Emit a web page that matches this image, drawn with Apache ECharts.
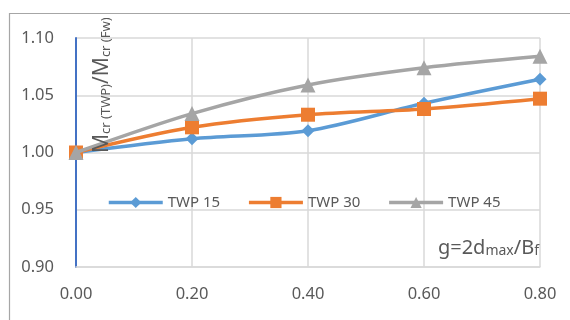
<!DOCTYPE html>
<html>
<head>
<meta charset="utf-8">
<script src="https://cdn.jsdelivr.net/npm/echarts@6/dist/echarts.min.js"></script>
<style>
  html, body { margin: 0; padding: 0; background: #fff; }
  #chart { width: 570px; height: 320px; }
</style>
</head>
<body>
<div id="chart"></div>
<script>
// g = 2 d_max / B_f
const gValues = [0.00, 0.20, 0.40, 0.60, 0.80];
// M_cr(TWP) / M_cr(Fw)
const twp15 = [1.000, 1.012, 1.019, 1.043, 1.064];
const twp30 = [1.000, 1.022, 1.033, 1.038, 1.047];
const twp45 = [1.000, 1.034, 1.059, 1.074, 1.084];
const seriesNames = ['TWP 15', 'TWP 30', 'TWP 45'];
const colors = ['#5b9bd5', '#ed7d31', '#a5a5a5'];
const symbols = ['diamond', 'rect', 'triangle'];
const symbolSizes = [13, 14, 15];

const font = "'Noto Sans', 'Liberation Sans', sans-serif";
const textColor = '#595959';
const gridColor = '#d9d9d9';

const pairs = arr => gValues.map((g, i) => [g, arr[i]]);

const chart = echarts.init(document.getElementById('chart'), null, { renderer: 'canvas' });

chart.setOption({
  animation: false,
  backgroundColor: '#fff',
  grid: { left: 76, right: 30, top: 38, bottom: 53 },
  xAxis: {
    type: 'value', min: 0, max: 0.8, interval: 0.2,
    axisLine: { lineStyle: { color: gridColor, width: 1.5 } },
    axisTick: { show: false },
    axisLabel: { color: textColor, fontFamily: font, fontSize: 16.5, margin: 19,
                 formatter: v => v.toFixed(2) },
    splitLine: { lineStyle: { color: gridColor, width: 1.5 } }
  },
  yAxis: {
    type: 'value', min: 0.9, max: 1.1, interval: 0.05,
    axisLine: { show: true, lineStyle: { color: '#4472c4', width: 2 } },
    axisTick: { show: false },
    axisLabel: { color: textColor, fontFamily: font, fontSize: 16.5, margin: 22,
                 formatter: v => v.toFixed(2) },
    splitLine: { lineStyle: { color: gridColor, width: 1.5 } }
  },
  legend: {
    left: 102, top: 190,
    itemWidth: 54, itemHeight: 14, itemGap: 27,
    lineStyle: { width: 3.5 },
    textStyle: { color: textColor, fontFamily: font, fontSize: 15 },
    data: seriesNames
  },
  series: [twp15, twp30, twp45].map((arr, i) => ({
    name: seriesNames[i],
    type: 'line',
    data: pairs(arr),
    smooth: 0.3,
    symbol: symbols[i],
    symbolSize: symbolSizes[i],
    showAllSymbol: true,
    itemStyle: { color: colors[i] },
    lineStyle: { color: colors[i], width: 3.5 },
    z: 3 + i
  })),
  graphic: [
    {
      type: 'rect', left: 7, top: 11, silent: true,
      shape: { width: 600, height: 400 },
      style: { fill: 'none', stroke: '#a6a6a6', lineWidth: 1.2 },
      z: 0
    },
    {
      type: 'text', x: 87, y: 153, rotation: Math.PI / 2, silent: true,
      style: {
        text: '{m|M}{s|cr (TWP)}{m|/M}{s|cr (Fw)}',
        fill: textColor, fontFamily: font,
        textVerticalAlign: 'top', textAlign: 'left',
        rich: {
          m: { fontSize: 21, fontFamily: font, fill: textColor, verticalAlign: 'bottom', lineHeight: 26 },
          s: { fontSize: 13, fontFamily: font, fill: textColor, verticalAlign: 'bottom', lineHeight: 18 }
        }
      },
      z: 10
    },
    {
      type: 'text', right: 31, top: 228, silent: true,
      style: {
        text: '{a|g=2d}{s|max}{a|/B}{s|f}',
        fill: textColor, fontFamily: font,
        backgroundColor: '#fff',
        rich: {
          a: { fontSize: 20, fontFamily: font, fill: textColor, verticalAlign: 'bottom', lineHeight: 30 },
          s: { fontSize: 14, fontFamily: font, fill: textColor, verticalAlign: 'bottom', lineHeight: 14 }
        }
      },
      z: 10
    }
  ]
});
</script>
</body>
</html>
